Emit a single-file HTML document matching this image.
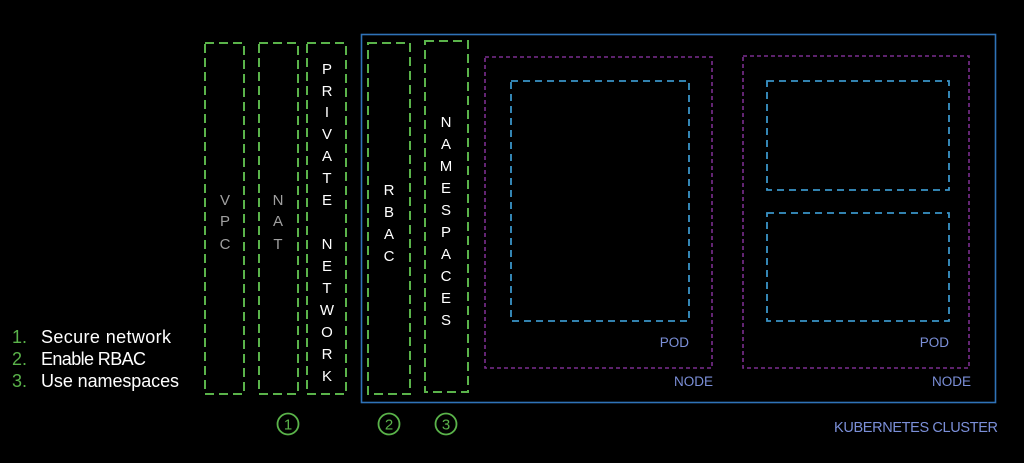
<!DOCTYPE html>
<html><head><meta charset="utf-8"><style>
html,body{margin:0;padding:0;background:#000;width:1024px;height:463px;overflow:hidden}
svg{display:block}
text{font-family:"Liberation Sans",sans-serif}
</style></head><body>
<svg width="1024" height="463" viewBox="0 0 1024 463" xmlns="http://www.w3.org/2000/svg">
<rect x="0" y="0" width="1024" height="463" fill="#000"/>
<rect x="361.5" y="34.5" width="634" height="368" fill="none" stroke="#2f73b8" stroke-width="1.6"/>
<g fill="none" stroke="#5ab34a" stroke-width="2" stroke-dasharray="9,5">
<rect x="205" y="43" width="39" height="351"/>
<rect x="259" y="43" width="39" height="351"/>
<rect x="307" y="43" width="39" height="351"/>
<rect x="368" y="43" width="42" height="351"/>
<rect x="425" y="41" width="43" height="351"/>
</g>
<g fill="none" stroke="#7a2d8f" stroke-width="1.6" stroke-dasharray="4,3">
<rect x="485" y="57" width="227" height="311"/>
<rect x="743" y="56" width="226" height="312"/>
</g>
<g fill="none" stroke="#3a94c8" stroke-width="1.8" stroke-dasharray="7,5">
<rect x="511" y="81" width="178" height="240"/>
<rect x="767" y="81" width="182" height="109"/>
<rect x="767" y="213" width="182" height="108"/>
</g>
<g font-size="15" text-anchor="middle">
<g fill="#a0a0a0">
<text x="225" y="205">V</text><text x="225" y="226">P</text><text x="225" y="249">C</text>
<text x="278" y="205">N</text><text x="278" y="226">A</text><text x="278" y="249">T</text>
</g>
<g fill="#ffffff">
<text x="327" y="74">P</text><text x="327" y="96">R</text><text x="327" y="117">I</text><text x="327" y="139">V</text><text x="327" y="161">A</text><text x="327" y="183">T</text><text x="327" y="205">E</text>
<text x="327" y="249">N</text><text x="327" y="271">E</text><text x="327" y="293">T</text><text x="327" y="315">W</text><text x="327" y="337">O</text><text x="327" y="359">R</text><text x="327" y="381">K</text>
<text x="389" y="195">R</text><text x="389" y="217">B</text><text x="389" y="239">A</text><text x="389" y="261">C</text>
<text x="446" y="127">N</text><text x="446" y="149">A</text><text x="446" y="171">M</text><text x="446" y="193">E</text><text x="446" y="215">S</text><text x="446" y="237">P</text><text x="446" y="259">A</text><text x="446" y="281">C</text><text x="446" y="303">E</text><text x="446" y="325">S</text>
</g>
</g>
<g fill="none" stroke="#5ab34a" stroke-width="1.8">
<circle cx="288" cy="424" r="10.5"/><circle cx="389" cy="424" r="10.5"/><circle cx="446" cy="424" r="10.5"/>
</g>
<g fill="#5ab34a" font-size="15" text-anchor="middle">
<text x="288" y="429.5">1</text><text x="389" y="429.5">2</text><text x="446" y="429.5">3</text>
</g>
<g fill="#7b8fd8" font-size="13.5" text-anchor="end">
<text x="689" y="347">POD</text><text x="713" y="386">NODE</text>
<text x="949" y="347">POD</text><text x="971" y="386">NODE</text>
<text x="998" y="432" font-size="14.5" textLength="164">KUBERNETES CLUSTER</text>
</g>
<g font-size="18">
<text x="12" y="343" fill="#5ab34a">1.</text><text x="41" y="343" fill="#fff" textLength="130">Secure network</text>
<text x="12" y="365" fill="#5ab34a">2.</text><text x="41" y="365" fill="#fff" textLength="105">Enable RBAC</text>
<text x="12" y="387" fill="#5ab34a">3.</text><text x="41" y="387" fill="#fff" textLength="138">Use namespaces</text>
</g>
</svg>
</body></html>
